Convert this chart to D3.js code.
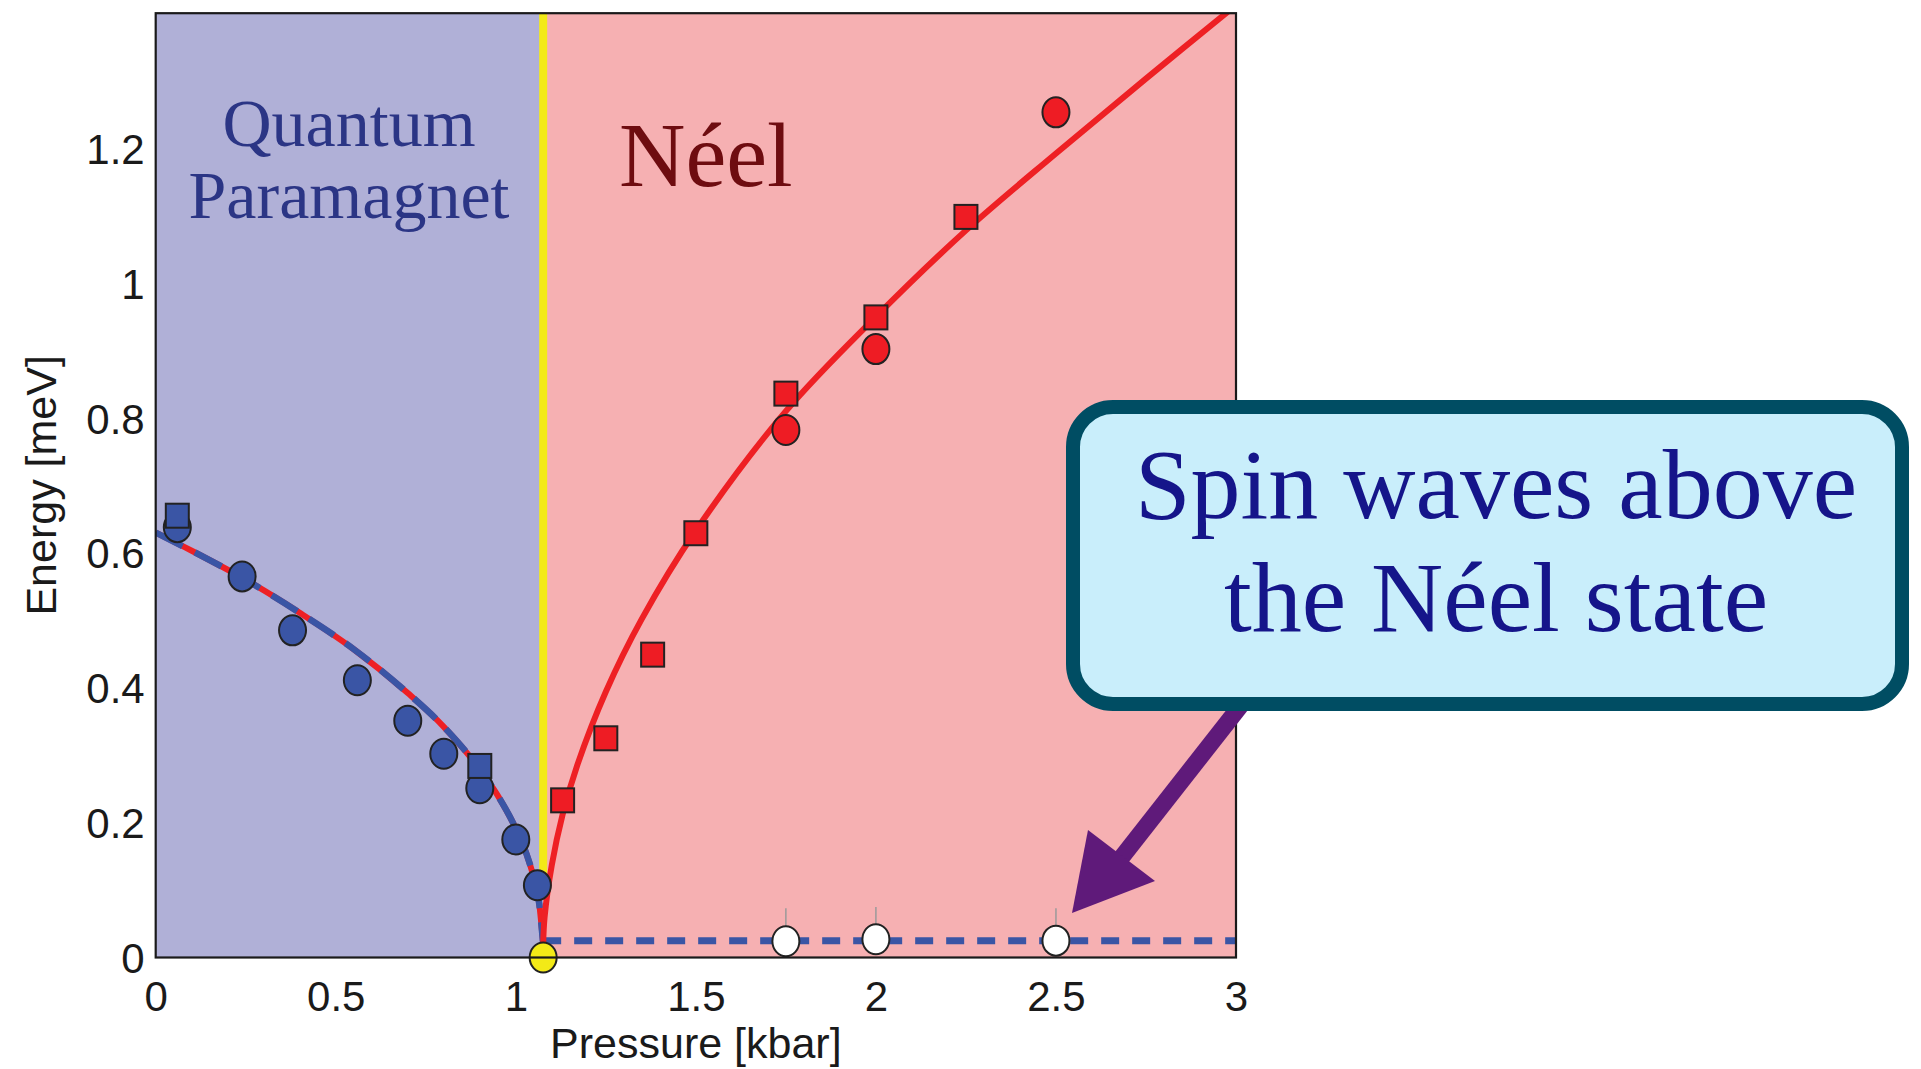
<!DOCTYPE html>
<html>
<head>
<meta charset="utf-8">
<script src="https://cdn.jsdelivr.net/npm/d3@7"></script>
<style>
  html, body { margin: 0; padding: 0; background: #ffffff; }
  svg { display: block; }
</style>
</head>
<body>
<svg id="chart" width="1921" height="1069"></svg>
<script>
// ---------------- data ----------------
const xTicks = [0, 0.5, 1, 1.5, 2, 2.5, 3];
const yTicks = [0, 0.2, 0.4, 0.6, 0.8, 1, 1.2];
const xTickLabels = ["0", "0.5", "1", "1.5", "2", "2.5", "3"];
const yTickLabels = ["0", "0.2", "0.4", "0.6", "0.8", "1", "1.2"];

const criticalPressure = 1.076;   // kbar
const gapLevel = 0.025;           // meV (dashed line)

// Quantum paramagnet: triplet gap
const qpCircleP = [0.06, 0.24, 0.38, 0.56, 0.70, 0.80, 0.90, 1.00, 1.06];
const qpCircleE = [0.638, 0.565, 0.485, 0.411, 0.351, 0.302, 0.251, 0.175, 0.107];
const qpSquareP = [0.06, 0.90];
const qpSquareE = [0.655, 0.284];

// Neel: longitudinal mode
const neelSquareP = [1.13, 1.25, 1.38, 1.50, 1.75, 2.00, 2.25];
const neelSquareE = [0.233, 0.325, 0.449, 0.629, 0.836, 0.949, 1.098];
const neelCircleP = [1.75, 2.00, 2.50];
const neelCircleE = [0.782, 0.902, 1.253];

// Spin waves above the Neel state
const swP = [1.75, 2.00, 2.50];
const swE = [0.024, 0.027, 0.025];
const swErrLo = [0.006, 0.006, 0.006];
const swErrHi = [0.073, 0.075, 0.073];

// fitted curves
const qpFitP = [0, 0.10, 0.25, 0.40, 0.55, 0.70, 0.80, 0.90, 0.95, 1.00, 1.03, 1.05, 1.065, 1.076];
const qpFitE = [0.630, 0.603, 0.560, 0.511, 0.457, 0.392, 0.342, 0.279, 0.240, 0.191, 0.153, 0.118, 0.080, 0.020];
const neelFitP = [1.076, 1.08, 1.10, 1.13, 1.17, 1.25, 1.35, 1.50, 1.75, 2.00, 2.25, 2.50, 2.75, 3.00];
const neelFitE = [0.020, 0.060, 0.137, 0.212, 0.284, 0.394, 0.502, 0.633, 0.810, 0.950, 1.078, 1.192, 1.303, 1.412];

// ---------------- layout ----------------
const svg = d3.select("#chart");
const plot = { left: 155.7, right: 1236, top: 13.2, bottom: 957.5 };

const x = d3.scaleLinear().domain([0, 3]).range([plot.left, plot.right]);
const y = d3.scaleLinear().domain([0, 1.4]).range([plot.bottom, plot.top]);

const defs = svg.append("defs");
defs.append("clipPath").attr("id", "plotClip")
  .append("rect")
  .attr("x", plot.left).attr("y", plot.top)
  .attr("width", plot.right - plot.left).attr("height", plot.bottom - plot.top);

// backgrounds
svg.append("rect")
  .attr("x", x(0)).attr("y", y(1.4))
  .attr("width", x(criticalPressure) - x(0)).attr("height", y(0) - y(1.4))
  .attr("fill", "#b0b0d7");
svg.append("rect")
  .attr("x", x(criticalPressure)).attr("y", y(1.4))
  .attr("width", x(3) - x(criticalPressure)).attr("height", y(0) - y(1.4))
  .attr("fill", "#f6b0b2");

// region labels
const serif = "'Liberation Serif', 'Times New Roman', serif";
const qpLabel = svg.append("text")
  .attr("text-anchor", "middle")
  .attr("font-family", serif).attr("font-size", 68).attr("fill", "#2b3585");
qpLabel.append("tspan").attr("x", 349).attr("y", 146).text("Quantum");
qpLabel.append("tspan").attr("x", 349).attr("y", 218).text("Paramagnet");

svg.append("text")
  .attr("x", 619).attr("y", 186)
  .attr("font-family", serif).attr("font-size", 92).attr("fill", "#6e0c10")
  .text("Néel");

const g = svg.append("g").attr("clip-path", "url(#plotClip)");

// yellow phase boundary
g.append("line")
  .attr("x1", x(criticalPressure)).attr("x2", x(criticalPressure))
  .attr("y1", y(1.4)).attr("y2", y(0.12))
  .attr("stroke", "#f3ea17").attr("stroke-width", 8);

const line = d3.line().x(d => x(d[0])).y(d => y(d[1])).curve(d3.curveMonotoneX);

// QP fit: red solid under blue dashes
const qpFit = qpFitP.map((p, i) => [p, qpFitE[i]]);
g.append("path").datum(qpFit).attr("d", line)
  .attr("fill", "none").attr("stroke", "#ee2024").attr("stroke-width", 6);
g.append("path").datum(qpFit).attr("d", line)
  .attr("fill", "none").attr("stroke", "#3a55a5").attr("stroke-width", 6.5)
  .attr("stroke-dasharray", "30 14");

// spin-wave dashed level
g.append("line")
  .attr("x1", x(criticalPressure)).attr("x2", x(3))
  .attr("y1", y(gapLevel)).attr("y2", y(gapLevel))
  .attr("stroke", "#3a55a5").attr("stroke-width", 7)
  .attr("stroke-dasharray", "18 13");

// Neel fit
const neelFit = neelFitP.map((p, i) => [p, neelFitE[i]]);
const lineY = d3.line().x(d => x(d[0])).y(d => y(d[1])).curve(d3.curveCatmullRom);
g.append("path").datum(neelFit).attr("d", lineY)
  .attr("fill", "none").attr("stroke", "#ee2024").attr("stroke-width", 6);

// markers
const mStroke = "#222222";
function circles(P, E, fill) {
  svg.append("g").selectAll("ellipse").data(P.map((p, i) => [p, E[i]])).join("ellipse")
    .attr("cx", d => x(d[0])).attr("cy", d => y(d[1]))
    .attr("rx", 13.5).attr("ry", 15)
    .attr("fill", fill).attr("stroke", mStroke).attr("stroke-width", 2);
}
function squares(P, E, fill) {
  svg.append("g").selectAll("rect").data(P.map((p, i) => [p, E[i]])).join("rect")
    .attr("x", d => x(d[0]) - 11.5).attr("y", d => y(d[1]) - 12)
    .attr("width", 23).attr("height", 24)
    .attr("fill", fill).attr("stroke", mStroke).attr("stroke-width", 2);
}
circles(qpCircleP, qpCircleE, "#3a55a5");
squares(qpSquareP, qpSquareE, "#3a55a5");
squares(neelSquareP, neelSquareE, "#ee1c24");
circles(neelCircleP, neelCircleE, "#ee1c24");

// spin-wave points with error bars
svg.append("g").selectAll("line").data(swP.map((p, i) => i)).join("line")
  .attr("x1", i => x(swP[i])).attr("x2", i => x(swP[i]))
  .attr("y1", i => y(swErrLo[i])).attr("y2", i => y(swErrHi[i]))
  .attr("stroke", "#9a9a9a").attr("stroke-width", 1.5);
circles(swP, swE, "#ffffff");

// critical point
circles([criticalPressure], [0], "#f3ea17");

// frame
svg.append("rect")
  .attr("x", plot.left).attr("y", plot.top)
  .attr("width", plot.right - plot.left).attr("height", plot.bottom - plot.top)
  .attr("fill", "none").attr("stroke", "#1a1a1a").attr("stroke-width", 2.2);

// axes
const sans = "'Liberation Sans', Arial, Helvetica, sans-serif";
const xAxis = d3.axisBottom(x).tickValues(xTicks).tickSize(0).tickPadding(14)
  .tickFormat((d, i) => xTickLabels[i]);
const yAxis = d3.axisLeft(y).tickValues(yTicks).tickSize(0).tickPadding(11)
  .tickFormat((d, i) => yTickLabels[i]);

const gx = svg.append("g").attr("transform", `translate(0,${plot.bottom})`).call(xAxis);
const gy = svg.append("g").attr("transform", `translate(${plot.left},0)`).call(yAxis);
[gx, gy].forEach(a => {
  a.select(".domain").remove();
  a.selectAll("text").attr("font-family", sans).attr("font-size", 42).attr("fill", "#1a1a1a");
});
gx.selectAll("text").attr("dy", "0.95em");
gy.selectAll("text").attr("dy", "0.36em");

svg.append("text")
  .attr("x", x(1.5)).attr("y", 1058)
  .attr("text-anchor", "middle")
  .attr("font-family", sans).attr("font-size", 43).attr("fill", "#1a1a1a")
  .text("Pressure [kbar]");
svg.append("text")
  .attr("transform", `translate(56,${y(0.7)}) rotate(-90)`)
  .attr("text-anchor", "middle")
  .attr("font-family", sans).attr("font-size", 43).attr("fill", "#1a1a1a")
  .text("Energy [meV]");

// arrow (drawn under the callout)
const arrowCol = "#5f1a7a";
svg.append("line")
  .attr("x1", 1245).attr("y1", 700).attr("x2", 1118).attr("y2", 862)
  .attr("stroke", arrowCol).attr("stroke-width", 17);
svg.append("path")
  .attr("d", "M1072,913 L1088,830 L1155,881 Z")
  .attr("fill", arrowCol);

// callout box
svg.append("rect")
  .attr("x", 1073).attr("y", 407).attr("width", 829).attr("height", 297)
  .attr("rx", 40).attr("ry", 40)
  .attr("fill", "#c9eefb").attr("stroke", "#004d63").attr("stroke-width", 14);
const callout = svg.append("text")
  .attr("text-anchor", "middle")
  .attr("font-family", serif).attr("font-size", 100).attr("fill", "#15158a");
callout.append("tspan").attr("x", 1496).attr("y", 518).text("Spin waves above");
callout.append("tspan").attr("x", 1496).attr("y", 631).text("the Néel state");
</script>
</body>
</html>
